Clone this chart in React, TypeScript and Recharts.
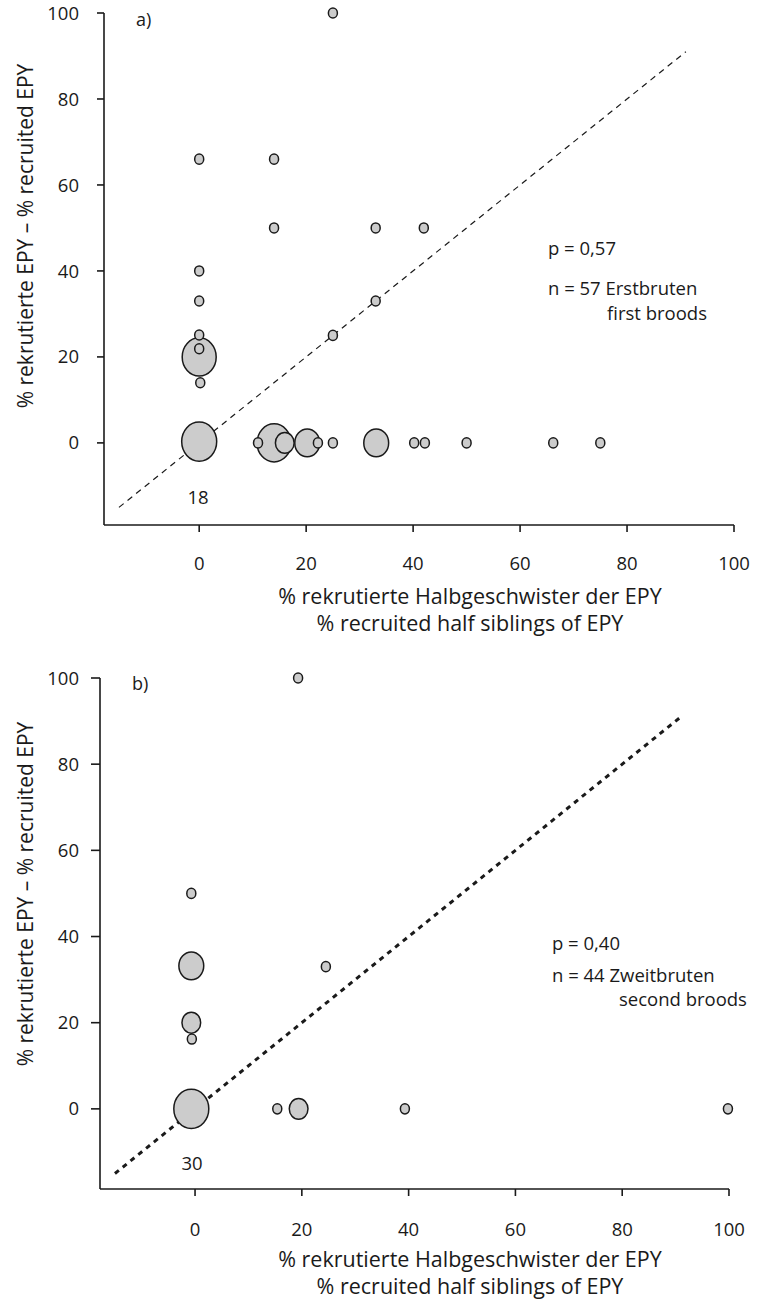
import React from 'react';
import { ScatterChart, Scatter, XAxis, YAxis, ZAxis, ReferenceLine } from 'recharts';

// panel a) – first broods
const halfSibsA = [14, 0, 0, 16, 20.2, 33.1, 25, 0, 14, 14, 33, 42, 0, 0, 0, 0, 0.2, 33, 25, 11, 22.2, 25, 40.2, 42.2, 50, 66.2, 75];
const epyA = [0, 20, 0.3, 0, 0, 0, 100, 66, 66, 50, 50, 50, 40, 33, 25.1, 21.9, 14, 33, 25, 0, 0, 0, 0, 0, 0, 0, 0];
const countA = [5, 5, 18, 2, 3, 3, 1, 1, 1, 1, 1, 1, 1, 1, 1, 1, 1, 1, 1, 1, 1, 1, 1, 1, 1, 1, 1];

// panel b) – second broods
const halfSibsB = [-0.7, -0.7, -0.7, 19.4, 19.3, -0.7, -0.6, 24.5, 15.4, 39.3, 99.8];
const epyB = [0, 33.2, 20, 0, 100, 50, 16.2, 33, 0, 0, 0];
const countB = [30, 3, 2, 2, 1, 1, 1, 1, 1, 1, 1];

const ticks = [0, 20, 40, 60, 80, 100];

const FONT = '"Open Sans", sans-serif';
const INK = '#1a1a1a';

// bubble area grows by this many px² per brood; very large counts are capped
const AREA_ONE = 64;
const AREA_STEP = 211;

const toRows = (xs: number[], ys: number[], ns: number[]) =>
  xs.map((x, i) => ({ x, y: ys[i], n: ns[i] }));

const dataA = toRows(halfSibsA, epyA, countA);
const dataB = toRows(halfSibsB, epyB, countB);

const Bubble = (props: any) => {
  const { cx, cy, size } = props;
  if (cx == null || cy == null) return null;
  const r = Math.min(Math.sqrt(size / Math.PI), 17.5);
  return <ellipse cx={cx} cy={cy} rx={r} ry={r * 1.12} fill="#cccccc" stroke={INK} strokeWidth={1.5} />;
};

interface PanelProps {
  data: { x: number; y: number; n: number }[];
  height: number;
  margin: { top: number; right: number; bottom: number; left: number };
  xMin: number;
  yMin: number;
  dashWidth: number;
  dash: string;
  tickMargin: number;
  yTickSize: number;
  yTickMargin: number;
  letter: string;
  letterPos: [number, number];
  pText: string;
  nText: string;
  nText2: string;
  pPos: [number, number];
  nY: number;
  n2Pos: [number, number];
  bigLabel: string;
  bigPos: [number, number];
  xTitleY: number;
  xTitleGap: number;
  yTitleY: number;
}

const txt = { fontFamily: FONT, fill: INK, dominantBaseline: 'central' as const };

const Panel = (p: PanelProps) => {
  const nMax = Math.max(...p.data.map((d) => d.n));
  return (
    <ScatterChart width={759} height={p.height} margin={p.margin}>
      <XAxis
        type="number"
        dataKey="x"
        domain={[p.xMin, 100]}
        ticks={ticks}
        height={60}
        tickSize={7}
        tickMargin={p.tickMargin}
        stroke={INK}
        strokeWidth={1.6}
        tick={{ fontSize: 18.5, fill: INK, fontFamily: FONT }}
      />
      <YAxis
        type="number"
        dataKey="y"
        domain={[p.yMin, 100]}
        ticks={ticks}
        width={80}
        tickSize={p.yTickSize}
        tickMargin={p.yTickMargin}
        stroke={INK}
        strokeWidth={1.6}
        tick={{ fontSize: 18.5, fill: INK, fontFamily: FONT }}
      />
      <ZAxis type="number" dataKey="n" domain={[1, nMax]} range={[AREA_ONE, AREA_ONE + AREA_STEP * (nMax - 1)]} />
      <ReferenceLine
        segment={[{ x: -15, y: -15 }, { x: 91, y: 91 }]}
        stroke={INK}
        strokeWidth={p.dashWidth}
        strokeDasharray={p.dash}
      />
      <Scatter data={p.data} shape={Bubble} isAnimationActive={false} />
      <text x={p.letterPos[0]} y={p.letterPos[1]} fontSize={18} {...txt}>
        {p.letter}
      </text>
      <text x={p.pPos[0]} y={p.pPos[1]} fontSize={18.5} {...txt}>
        {p.pText}
      </text>
      <text x={p.pPos[0]} y={p.nY} fontSize={18.5} {...txt}>
        {p.nText}
      </text>
      <text x={p.n2Pos[0]} y={p.n2Pos[1]} fontSize={18.5} {...txt}>
        {p.nText2}
      </text>
      <text x={p.bigPos[0]} y={p.bigPos[1]} fontSize={18.5} textAnchor="middle" {...txt}>
        {p.bigLabel}
      </text>
      <text x={470} y={p.xTitleY} fontSize={21.5} textAnchor="middle" {...txt}>
        % rekrutierte Halbgeschwister der EPY
      </text>
      <text x={470} y={p.xTitleY + p.xTitleGap} fontSize={21.5} textAnchor="middle" {...txt}>
        % recruited half siblings of EPY
      </text>
      <text
        x={25}
        y={p.yTitleY}
        fontSize={21}
        textAnchor="middle"
        transform={`rotate(-90 25 ${p.yTitleY})`}
        {...txt}
      >
        % rekrutierte EPY – % recruited EPY
      </text>
    </ScatterChart>
  );
};

export default function App() {
  return (
    <div style={{ position: 'absolute', top: 0, left: 0, width: 759, height: 1302, background: '#fff' }}>
      <Panel
        data={dataA}
        height={650}
        margin={{ top: 13, right: 25, bottom: 65, left: 24 }}
        xMin={-17.8}
        yMin={-19.1}
        dashWidth={1.2}
        dash="6 5"
        tickMargin={25}
        yTickSize={7}
        yTickMargin={18}
        letter="a)"
        letterPos={[136, 19]}
        pText="p = 0,57"
        nText="n = 57 Erstbruten"
        nText2="first broods"
        pPos={[548, 247]}
        nY={287}
        n2Pos={[607, 312]}
        bigLabel="18"
        bigPos={[198, 496]}
        xTitleY={595}
        xTitleGap={27}
        yTitleY={236}
      />
      <div style={{ position: 'absolute', top: 650, left: 0 }}>
        <Panel
          data={dataB}
          height={652}
          margin={{ top: 28, right: 30, bottom: 53, left: 20 }}
          xMin={-17.8}
          yMin={-18.6}
          dashWidth={3}
          dash="5 5"
          tickMargin={27}
          yTickSize={9}
          yTickMargin={12}
          letter="b)"
          letterPos={[132, 33]}
          pText="p = 0,40"
          nText="n = 44 Zweitbruten"
          nText2="second broods"
          pPos={[552, 292]}
          nY={324}
          n2Pos={[619, 348]}
          bigLabel="30"
          bigPos={[192, 512]}
          xTitleY={608}
          xTitleGap={27}
          yTitleY={244}
        />
      </div>
    </div>
  );
}
